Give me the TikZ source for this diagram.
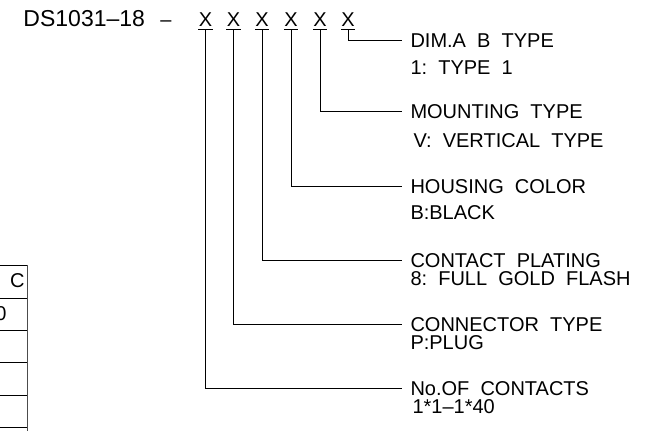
\documentclass[tikz,border=0pt]{standalone}
\usepackage{fontspec}
\setmainfont{Liberation Sans}
\usepackage{tikz}

\begin{document}
\begin{tikzpicture}[x=0.5pt,y=-0.5pt,line width=0.5pt,
    every node/.style={font=\fontsize{10}{12}\selectfont,inner sep=0pt},
    digit/.style={anchor=south,inner xsep=0pt,inner ysep=1pt},
    heading/.style={anchor=west,inner xsep=4pt,inner ysep=0pt,text height=7.2pt,text depth=0pt},
    choice/.style={anchor=west,text height=7.2pt,text depth=0pt}]
  \useasboundingbox (0,0) rectangle (664,430);
  \clip (0,0) rectangle (664,430);
  % part number
  \node[anchor=base west,font=\fontsize{11.5}{13}\selectfont] (part) at (23,26) {DS1031–18};
  \node[anchor=base] (dash) at (166,26) {–};
  \node[digit] (x1) at (205.5,29) {X};
  \node[digit] (x2) at (233.5,29) {X};
  \node[digit] (x3) at (262,29) {X};
  \node[digit] (x4) at (291,29) {X};
  \node[digit] (x5) at (320,29) {X};
  \node[digit] (x6) at (348,29) {X};
  % meaning of each digit
  \node[heading] (dimhead) at (402,40) {DIM.A\ \ B\ \ TYPE};
  \node[choice] (dimval) at (410,67) {1:\ \ TYPE\ \ 1};
  \node[heading] (mounthead) at (402,111) {MOUNTING\ \ TYPE};
  \node[choice] (mountval) at (413,140) {V:\ \ VERTICAL\ \ TYPE};
  \node[heading] (colorhead) at (402,186) {HOUSING\ \ COLOR};
  \node[choice] (colorval) at (410,212) {B:BLACK};
  \node[heading] (platehead) at (402,260) {CONTACT\ \ PLATING};
  \node[choice] (plateval) at (410,278) {8:\ \ FULL\ \ GOLD\ \ FLASH};
  \node[heading] (typehead) at (402,324) {CONNECTOR\ \ TYPE};
  \node[choice] (typeval) at (410,342) {P:PLUG};
  \node[heading] (pinhead) at (402,388) {No.OF\ \ CONTACTS};
  \node[choice] (pinval) at (412,406) {1*1–1*40};
  % leaders
  \draw (x1.south west) -- (x1.south east);
  \draw (x2.south west) -- (x2.south east);
  \draw (x3.south west) -- (x3.south east);
  \draw (x4.south west) -- (x4.south east);
  \draw (x5.south west) -- (x5.south east);
  \draw (x6.south west) -- (x6.south east);
  \draw (x1.south) |- (pinhead.west);
  \draw (x2.south) |- (typehead.west);
  \draw (x3.south) |- (platehead.west);
  \draw (x4.south) |- (colorhead.west);
  \draw (x5.south) |- (mounthead.west);
  \draw (x6.south) |- (dimhead.west);
  % table cut by the frame
  \draw[black!70] (27,265) -- (27,432);
  \draw (-40,265) -- (27,265) (-40,298) -- (27,298) (-40,330) -- (27,330)
        (-40,362) -- (27,362) (-40,395) -- (27,395) (-40,427) -- (27,427);
  \node[anchor=east] (cellc) at (25,281) {C};
  \node (cellzero) at (1,314) {0};
\end{tikzpicture}
\end{document}
